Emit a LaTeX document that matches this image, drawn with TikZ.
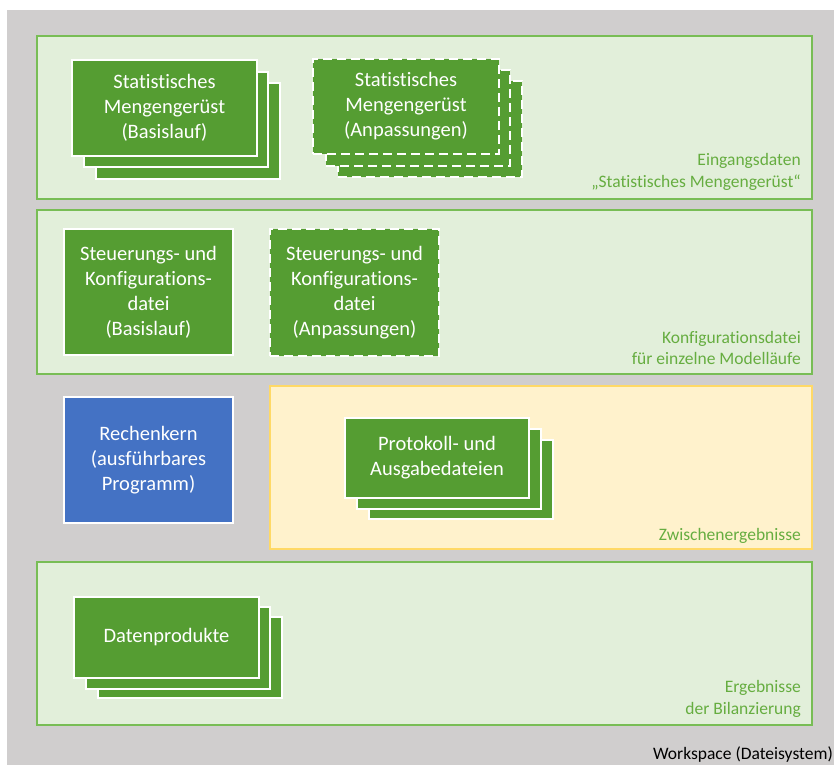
\documentclass[tikz,border=0pt]{standalone}
\usepackage{fontspec}
\setmainfont{Carlito}[Ligatures=NoCommon]
\definecolor{wsgray}{HTML}{D0CECE}
\definecolor{panelfill}{HTML}{E2EFDA}
\definecolor{panelline}{HTML}{78BD55}
\definecolor{labelgreen}{HTML}{66AD40}
\definecolor{boxgreen}{HTML}{559D32}
\definecolor{boxblue}{HTML}{4472C4}
\definecolor{yelfill}{HTML}{FFF2CC}
\definecolor{yelline}{HTML}{FFD966}
\tikzset{
  panel/.style={draw=panelline, fill=panelfill, line width=2.4pt},
  yelpanel/.style={draw=yelline, fill=yelfill, line width=2.4pt},
  doc/.style={rectangle, fill=boxgreen, draw=white, line width=2pt, text=white,
    align=center, inner sep=0pt, font=\fontsize{20.5}{25}\selectfont},
  dashdoc/.style={doc, line width=2.4pt, dash pattern=on 9pt off 5pt},
  plabel/.style={anchor=east, align=right, text=labelgreen, inner sep=0pt,
    font=\fontsize{17.5}{21.5}\selectfont},
}
\begin{document}
\begin{tikzpicture}[x=1pt, y=-1pt]
\useasboundingbox (0,0) rectangle (834,765);
% workspace
\fill[wsgray] (7,10) rectangle (834,765);
% panels
\draw[panel] (37,36) rectangle (812,199);
\draw[panel] (37,210) rectangle (812,374);
\draw[yelpanel] (270,386) rectangle (812,549);
\draw[panel] (37,562) rectangle (812,725);

% stack 1
\node[doc, minimum width=184pt, minimum height=95pt] (s1c) at (188,131) {};
\node[doc, minimum width=184pt, minimum height=95pt] (s1b) at (176,119.5) {};
\node[doc, minimum width=185pt, minimum height=95pt] (s1a) at (164.5,108) {Statistisches\\Mengengerüst\\(Basislauf)};

% stack 2 (dashed)
\node[dashdoc, minimum width=184pt, minimum height=96pt] (s2c) at (430,129) {};
\node[dashdoc, minimum width=184pt, minimum height=96pt] (s2b) at (418,118) {};
\node[dashdoc, minimum width=186pt, minimum height=95pt] (s2a) at (406,106.5) {Statistisches\\Mengengerüst\\(Anpassungen)};

\node[plabel] (l1) at (801,172) {Eingangsdaten\\„Statistisches Mengengerüst“};

% config
\node[doc, minimum width=169pt, minimum height=126pt] (k1) at (148.5,292) {Steuerungs- und\\Konfigurations-\\datei\\(Basislauf)};
\node[dashdoc, minimum width=169pt, minimum height=127pt] (k2) at (354.5,292.5) {Steuerungs- und\\Konfigurations-\\datei\\(Anpassungen)};
\node[plabel] (l2) at (801,348) {Konfigurationsdatei\\für einzelne Modelläufe};

% Rechenkern
\node[doc, fill=boxblue, minimum width=169pt, minimum height=126pt] (rk) at (148.5,460) {Rechenkern\\(ausführbares\\Programm)};

% Protokoll stack
\node[doc, minimum width=184pt, minimum height=79pt] (p3) at (461,479) {};
\node[doc, minimum width=184pt, minimum height=80pt] (p2) at (449,469) {};
\node[doc, minimum width=184pt, minimum height=80pt] (p1) at (437,458) {Protokoll- und\\Ausgabedateien};
\node[plabel] (l3) at (801,536) {Zwischenergebnisse};

% Datenprodukte stack
\node[doc, minimum width=184pt, minimum height=81pt] (d3) at (190,657.5) {};
\node[doc, minimum width=184pt, minimum height=82pt] (d2) at (178,648) {};
\node[doc, minimum width=185pt, minimum height=81pt] (d1) at (166.5,637.5) {Datenprodukte};
\node[plabel] (l4) at (801,699) {Ergebnisse\\der Bilanzierung};

\node[anchor=east, inner sep=0pt, font=\fontsize{17.5}{21}\selectfont] (ws) at (833,754) {Workspace (Dateisystem)};
\end{tikzpicture}
\end{document}
